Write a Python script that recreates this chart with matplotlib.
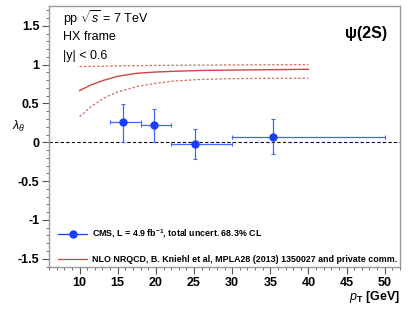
import numpy as np
import matplotlib
matplotlib.use("Agg")
import matplotlib.pyplot as plt
from matplotlib.lines import Line2D
from matplotlib.ticker import MultipleLocator, FuncFormatter

plt.rcParams["font.family"] = ["Liberation Sans", "DejaVu Sans"]
plt.rcParams["mathtext.fontset"] = "custom"
plt.rcParams["mathtext.rm"] = "Liberation Sans"
plt.rcParams["mathtext.it"] = "Liberation Sans:italic"
plt.rcParams["mathtext.bf"] = "Liberation Sans:bold"

# CMS data points: pT bins and lambda_theta with total uncertainties
pt_lo = np.array([14, 18, 22, 30])
pt_hi = np.array([18, 22, 30, 50])
pt_mean = np.array([15.7, 19.8, 25.1, 35.4])
lam = np.array([0.26, 0.22, -0.02, 0.07])
err_up = np.array([0.23, 0.21, 0.19, 0.23])
err_dn = np.array([0.26, 0.22, 0.19, 0.22])

# NLO NRQCD band (central, upper, lower)
nlo_pt = np.array([10, 11.5, 13.2, 15, 17.6, 20, 22.5, 25.9, 30, 35, 40])
nlo_mid = np.array([0.665, 0.74, 0.80, 0.85, 0.89, 0.905, 0.915, 0.925, 0.93, 0.935, 0.94])
nlo_up = np.array([0.975, 0.978, 0.981, 0.984, 0.987, 0.99, 0.992, 0.994, 0.996, 0.998, 1.0])
nlo_dn = np.array([0.33, 0.46, 0.57, 0.65, 0.72, 0.76, 0.79, 0.81, 0.82, 0.823, 0.825])

blue = "#1a3cff"
red = "#c84848"

fig = plt.figure(figsize=(4.09, 3.16), dpi=100)
ax = fig.add_axes([0.12, 0.154, 0.858, 0.827])

ax.axhline(0, color="black", lw=0.8, ls=(0, (3, 2)))

ax.plot(nlo_pt, nlo_mid, color=red, lw=1.0)
ax.plot(nlo_pt, nlo_up, color=red, lw=0.9, ls=(0, (2, 1.5)), alpha=0.8)
ax.plot(nlo_pt, nlo_dn, color=red, lw=0.9, ls=(0, (2, 1.5)), alpha=0.8)

ax.errorbar(pt_mean, lam, xerr=[pt_mean - pt_lo, pt_hi - pt_mean],
            yerr=[err_dn, err_up], fmt="o", color=blue, ms=5,
            elinewidth=0.9, capsize=1.5, capthick=0.8, ecolor="#4466ff")

ax.set_xlim(6, 52)
ax.set_ylim(-1.61, 1.755)

ax.xaxis.set_major_locator(MultipleLocator(5))
ax.xaxis.set_minor_locator(MultipleLocator(1))
ax.yaxis.set_major_locator(MultipleLocator(0.5))
ax.yaxis.set_minor_locator(MultipleLocator(0.1))
ax.set_xticks([10, 15, 20, 25, 30, 35, 40, 45, 50])
ax.yaxis.set_major_formatter(FuncFormatter(lambda v, p: ("%g" % v)))

for s in ax.spines.values():
    s.set_color("#999999")
    s.set_linewidth(1.0)
ax.tick_params(which="both", direction="out", color="#555555", top=False, right=False)
ax.tick_params(which="major", length=5, width=0.8, labelsize=9, pad=2)
ax.tick_params(which="minor", length=2.5, width=0.6)
for lab in ax.get_xticklabels() + ax.get_yticklabels():
    lab.set_fontweight("bold")

ax.text(0.04, 0.953, r"pp $\sqrt{s}$ = 7 TeV", transform=ax.transAxes, fontsize=9, va="center")
ax.text(0.04, 0.883, "HX frame", transform=ax.transAxes, fontsize=9, va="center")
ax.text(0.04, 0.81, "|y| < 0.6", transform=ax.transAxes, fontsize=9, va="center")
ax.text(0.962, 0.895, "ψ(2S)", transform=ax.transAxes, fontsize=11.5, fontweight="bold",
        ha="right", va="center")

fig.text(0.03, 0.6, r"$\lambda_{\theta}$", fontsize=9, ha="left", va="center")
ax.set_xlabel(r"$\mathbf{\mathit{p}}_{\mathbf{T}}$ [GeV]", loc="right", fontsize=9,
              fontweight="bold", labelpad=0)

handles = [
    Line2D([], [], color=blue, marker="o", ms=5, lw=0.9),
    Line2D([], [], color=red, lw=0.9),
]
labels = [
    r"CMS, L = 4.9 fb$^{\mathbf{-1}}$, total uncert. 68.3% CL",
    "NLO NRQCD, B. Kniehl et al, MPLA28 (2013) 1350027 and private comm.",
]
leg = ax.legend(handles, labels, loc="upper left", bbox_to_anchor=(0.025, 0.152),
                frameon=False, borderpad=0, borderaxespad=0, handlelength=3.3,
                handletextpad=0.5, labelspacing=1.65,
                prop={"size": 6.4, "weight": "bold"})

fig.savefig("out.png", dpi=100)
